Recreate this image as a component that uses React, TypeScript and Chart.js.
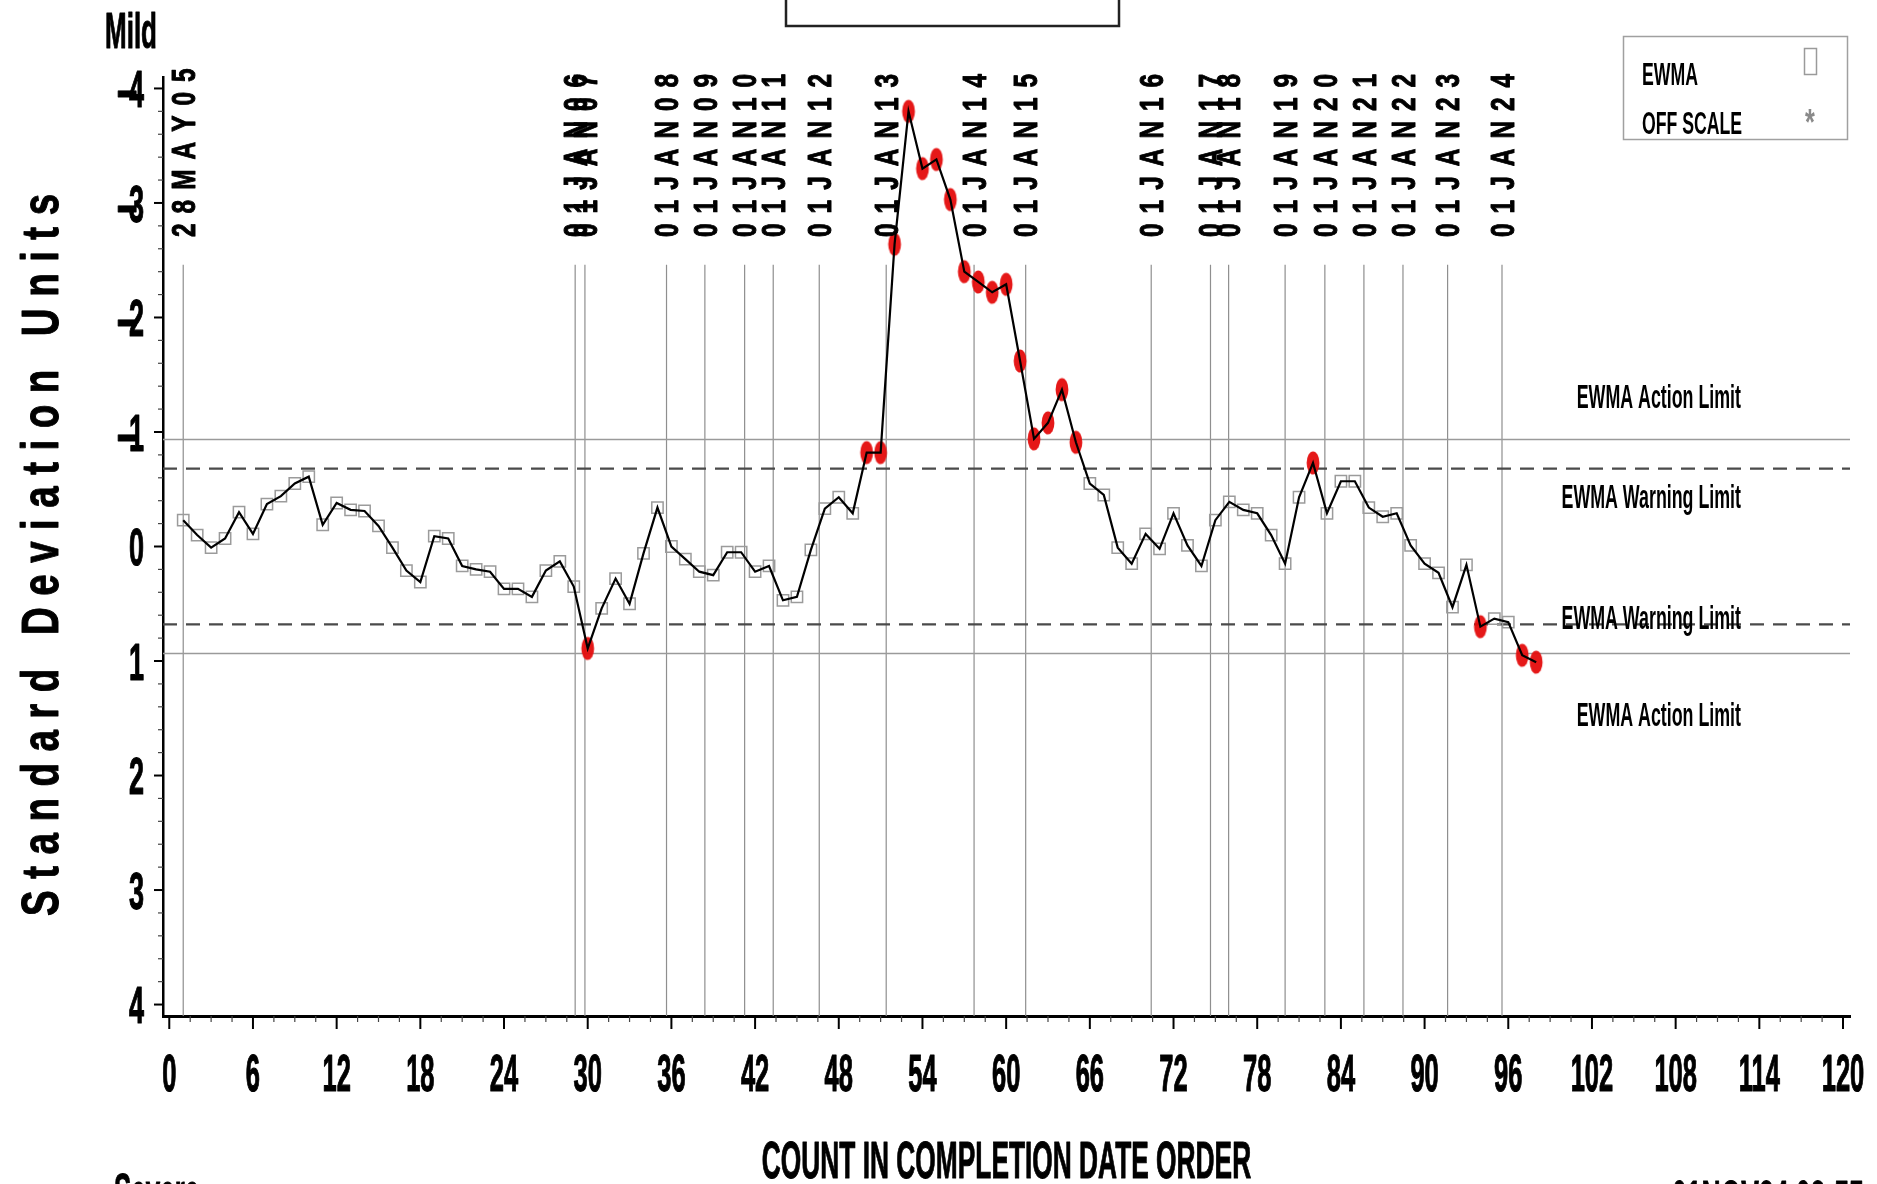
import React, { useEffect, useRef } from 'react';
import { Chart, registerables } from 'chart.js';

Chart.register(...registerables);

// ---------------- data ----------------
const ewmaValues = [
  -0.23, -0.10, 0.01, -0.07, -0.30, -0.11, -0.37, -0.44, -0.55, -0.61,
  -0.19, -0.38, -0.32, -0.31, -0.18, 0.01, 0.21, 0.31, -0.09, -0.07,
  0.17, 0.20, 0.22, 0.37, 0.37, 0.44, 0.21, 0.13, 0.35, 0.89,
  0.54, 0.28, 0.50, 0.06, -0.34, 0.00, 0.11, 0.22, 0.25, 0.05,
  0.05, 0.22, 0.17, 0.47, 0.44, 0.03, -0.33, -0.43, -0.29, -0.82,
  -0.82, -2.64, -3.80, -3.30, -3.38, -3.03, -2.40, -2.31, -2.22, -2.29,
  -1.62, -0.94, -1.08, -1.37, -0.91, -0.55, -0.45, 0.01, 0.15, -0.11,
  0.02, -0.29, -0.01, 0.17, -0.23, -0.39, -0.32, -0.29, -0.10, 0.15,
  -0.43, -0.73, -0.29, -0.57, -0.57, -0.34, -0.26, -0.29, -0.01, 0.15,
  0.23, 0.53, 0.16, 0.70, 0.63, 0.66, 0.95, 1.01,
];

const dateLineCounts = [
  1.0, 29.1, 29.8, 35.65, 38.4, 41.25, 43.3, 46.6, 51.4, 57.7,
  61.4, 70.4, 74.65, 75.95, 80.0, 82.85, 85.65, 88.45, 91.65, 95.55,
];
const dateLineLabels = [
  '28MAY05', '01JAN06', '01JAN07', '01JAN08', '01JAN09', '01JAN10', '01JAN11',
  '01JAN12', '01JAN13', '01JAN14', '01JAN15', '01JAN16', '01JAN17', '01JAN18',
  '01JAN19', '01JAN20', '01JAN21', '01JAN22', '01JAN23', '01JAN24',
];

const xTickValues = [0, 6, 12, 18, 24, 30, 36, 42, 48, 54, 60, 66, 72, 78, 84, 90, 96, 102, 108, 114, 120];
const yTickValues = [-4, -3, -2, -1, 0, 1, 2, 3, 4];

const actionLimit = 0.935;
const warningLimit = 0.68;
const limitLabelAction = 'EWMA Action Limit';
const limitLabelWarning = 'EWMA Warning Limit';

const X_MIN = -0.45;
const X_MAX = 120.5;
const Y_MIN = -4.1;
const Y_MAX = 4.1;
const DATE_LINE_TOP = -2.46;

const FONT = '"Liberation Sans", Arial, Helvetica, sans-serif';

// ---------------- helpers ----------------
function drawText(
  ctx: CanvasRenderingContext2D, s: string, x: number, y: number,
  size: number, sx: number, align: CanvasTextAlign = 'left', color = '#000', thick = 0
) {
  ctx.save();
  ctx.translate(x, y);
  ctx.scale(sx, 1);
  ctx.font = `bold ${size}px ${FONT}`;
  ctx.textAlign = align;
  ctx.textBaseline = 'alphabetic';
  ctx.fillStyle = color;
  ctx.fillText(s, 0, 0);
  if (thick > 0) {
    ctx.strokeStyle = color;
    ctx.lineWidth = thick;
    ctx.lineJoin = 'round';
    ctx.strokeText(s, 0, 0);
  }
  ctx.restore();
}

function drawVertical(
  ctx: CanvasRenderingContext2D, s: string, cx: number, yStart: number,
  size: number, sx: number, gap: number, color = '#000', thick = 0
) {
  ctx.save();
  ctx.translate(cx, yStart);
  ctx.rotate(-Math.PI / 2);
  ctx.font = `bold ${size}px ${FONT}`;
  ctx.textAlign = 'left';
  ctx.textBaseline = 'alphabetic';
  ctx.fillStyle = color;
  ctx.strokeStyle = color;
  ctx.lineJoin = 'round';
  const capH = size * 0.716;
  let pos = 0;
  for (const ch of s) {
    const w = ctx.measureText(ch).width * sx;
    if (ch !== ' ') {
      ctx.save();
      ctx.translate(pos, capH / 2);
      ctx.scale(sx, 1);
      ctx.fillText(ch, 0, 0);
      if (thick > 0) {
        ctx.lineWidth = thick;
        ctx.strokeText(ch, 0, 0);
      }
      ctx.restore();
    }
    pos += w + gap;
  }
  ctx.restore();
}

const decorPlugin = {
  id: 'decor',
  afterDraw(chart: any) {
    const ctx: CanvasRenderingContext2D = chart.ctx;
    const a = chart.chartArea;
    const xs = chart.scales.x;
    const ys = chart.scales.y;

    // date labels above the vertical reference lines
    dateLineCounts.forEach((c, i) => {
      drawVertical(ctx, dateLineLabels[i], xs.getPixelForValue(c), 237, 33, 0.74, 10, '#000', 1);
    });

    // limit annotations
    drawText(ctx, limitLabelAction, 1741, ys.getPixelForValue(-actionLimit) - 31, 33, 0.54, 'right');
    drawText(ctx, limitLabelWarning, 1741, ys.getPixelForValue(-warningLimit) + 39, 33, 0.54, 'right');
    drawText(ctx, limitLabelWarning, 1741, ys.getPixelForValue(warningLimit) + 5, 33, 0.54, 'right');
    drawText(ctx, limitLabelAction, 1741, ys.getPixelForValue(actionLimit) + 72, 33, 0.54, 'right');

    // axis tick marks
    ctx.save();
    for (let i = -20; i <= 20; i++) {
      const y = ys.getPixelForValue(i / 5);
      const major = i % 5 === 0;
      ctx.strokeStyle = major ? '#000' : '#444';
      ctx.lineWidth = major ? 2 : 1.2;
      const len = major ? 9 : 5;
      ctx.beginPath();
      ctx.moveTo(a.left - len, y);
      ctx.lineTo(a.left, y);
      ctx.stroke();
    }
    for (let i = 0; i <= 80; i++) {
      const x = xs.getPixelForValue(i * 1.5);
      const major = i % 4 === 0;
      ctx.strokeStyle = major ? '#000' : '#444';
      ctx.lineWidth = major ? 2 : 1.2;
      const len = major ? 13 : 6;
      ctx.beginPath();
      ctx.moveTo(x, a.bottom);
      ctx.lineTo(x, a.bottom + len);
      ctx.stroke();
    }
    ctx.restore();

    // tick labels
    xTickValues.forEach((v) => {
      drawText(ctx, String(v), xs.getPixelForValue(v), 1091, 51, 0.5, 'center', '#000', 1.2);
    });
    yTickValues.forEach((v) => {
      const y = ys.getPixelForValue(v) + (0.716 * 52) / 2;
      if (v < 0) drawText(ctx, '-', 139, y, 52, 1.35, 'right', '#000', 0.8);
      drawText(ctx, String(Math.abs(v)), 144, y, 52, 0.52, 'right', '#000', 1.2);
    });

    // titles
    drawText(ctx, 'Mild', 105, 48, 50, 0.52, 'left', '#000', 1);
    drawText(ctx, 'Severe', 114, 1209, 50, 0.52, 'left', '#000', 1);
    drawText(ctx, 'COUNT IN COMPLETION DATE ORDER', (a.left + a.right) / 2, 1178, 51, 0.516, 'center', '#000', 1);
    drawText(ctx, '01NOV24 08:55', 1672, 1217, 51, 0.52, 'left', '#000', 1);
    drawVertical(ctx, 'Standard Deviation Units', 39.5, 916, 52, 0.74, 11.5, '#000', 1);

    // legend
    ctx.save();
    ctx.strokeStyle = '#a0a0a0';
    ctx.lineWidth = 1.5;
    ctx.strokeRect(1623.5, 36.5, 224, 103);
    ctx.strokeStyle = '#9a9a9a';
    ctx.strokeRect(1804.5, 48.5, 12, 26);
    ctx.restore();
    drawText(ctx, 'EWMA', 1642, 85, 31, 0.57, 'left');
    drawText(ctx, 'OFF SCALE', 1642, 134, 31, 0.57, 'left');
    drawText(ctx, '*', 1810, 135, 36, 0.7, 'center', '#8a8a8a');

    // title box (top cut off)
    ctx.save();
    ctx.strokeStyle = '#222';
    ctx.lineWidth = 2.5;
    ctx.strokeRect(786, -10, 333, 36);
    ctx.restore();
  },
};

function makeRedMarker(): HTMLCanvasElement {
  const c = document.createElement('canvas');
  c.width = 16;
  c.height = 26;
  const g = c.getContext('2d')!;
  g.fillStyle = 'rgba(228, 12, 12, 0.95)';
  g.beginPath();
  g.ellipse(8, 13, 6.4, 11.5, 0, 0, Math.PI * 2);
  g.fill();
  return c;
}

export default function App() {
  const ref = useRef<HTMLCanvasElement>(null);

  useEffect(() => {
    if (!ref.current) return;
    const red = makeRedMarker();
    const pts = ewmaValues.map((v, i) => ({ x: i + 1, y: v }));
    const isOut = (c: any) => {
      const r = c && c.raw;
      return !!r && Math.abs(r.y) > warningLimit;
    };
    const vlineData: any[] = [];
    dateLineCounts.forEach((c) => {
      vlineData.push({ x: c, y: DATE_LINE_TOP });
      vlineData.push({ x: c, y: Y_MAX });
      vlineData.push({ x: c, y: null });
    });
    const hline = (v: number) => [{ x: X_MIN, y: v }, { x: X_MAX, y: v }];

    const chart = new Chart(ref.current, {
      type: 'line',
      data: {
        datasets: [
          {
            label: 'EWMA',
            data: pts,
            borderColor: '#000',
            borderWidth: 2.2,
            pointRadius: 0,
            fill: false,
            order: 0,
          } as any,
          {
            label: 'EWMA points',
            data: pts,
            showLine: false,
            pointStyle: (c: any) => (isOut(c) ? red : 'rect'),
            pointRadius: (c: any) => (isOut(c) ? 11 : 8),
            pointBorderColor: '#9b9b9b',
            pointBorderWidth: (c: any) => (isOut(c) ? 0 : 1.5),
            pointBackgroundColor: 'rgba(0,0,0,0)',
            order: 1,
          } as any,
          {
            label: 'Action upper',
            data: hline(-actionLimit),
            borderColor: '#9a9a9a',
            borderWidth: 1.6,
            pointRadius: 0,
            order: 3,
          } as any,
          {
            label: 'Action lower',
            data: hline(actionLimit),
            borderColor: '#9a9a9a',
            borderWidth: 1.6,
            pointRadius: 0,
            order: 3,
          } as any,
          {
            label: 'Warning upper',
            data: hline(-warningLimit),
            borderColor: '#4a4a4a',
            borderWidth: 2.2,
            borderDash: [14, 9],
            pointRadius: 0,
            order: 3,
          } as any,
          {
            label: 'Warning lower',
            data: hline(warningLimit),
            borderColor: '#4a4a4a',
            borderWidth: 2.2,
            borderDash: [14, 9],
            pointRadius: 0,
            order: 3,
          } as any,
          {
            label: 'Date lines',
            data: vlineData,
            borderColor: '#8f8f8f',
            borderWidth: 1.2,
            pointRadius: 0,
            spanGaps: false,
            order: 4,
          } as any,
        ],
      },
      options: {
        animation: false,
        responsive: false,
        devicePixelRatio: 1,
        events: [],
        layout: { padding: { left: 0, top: 77, right: 27, bottom: 0 }, autoPadding: false } as any,
        plugins: {
          legend: { display: false },
          tooltip: { enabled: false },
          title: { display: false },
        },
        scales: {
          x: {
            type: 'linear',
            min: X_MIN,
            max: X_MAX,
            grid: { display: true, drawOnChartArea: false, drawTicks: false },
            ticks: { display: false },
            border: { display: true, color: '#000', width: 3 },
            afterFit: (s: any) => { s.height = 168; },
          },
          y: {
            type: 'linear',
            min: Y_MIN,
            max: Y_MAX,
            reverse: true,
            grid: { display: true, drawOnChartArea: false, drawTicks: false },
            ticks: { display: false },
            border: { display: true, color: '#000', width: 2.5 },
            afterFit: (s: any) => { s.width = 163; },
          },
        },
      } as any,
      plugins: [decorPlugin],
    });
    return () => chart.destroy();
  }, []);

  return (
    <div style={{ position: 'fixed', left: 0, top: 0, width: 1877, height: 1184, background: '#fff' }}>
      <canvas ref={ref} width={1877} height={1184} style={{ display: 'block', width: 1877, height: 1184 }} />
    </div>
  );
}
